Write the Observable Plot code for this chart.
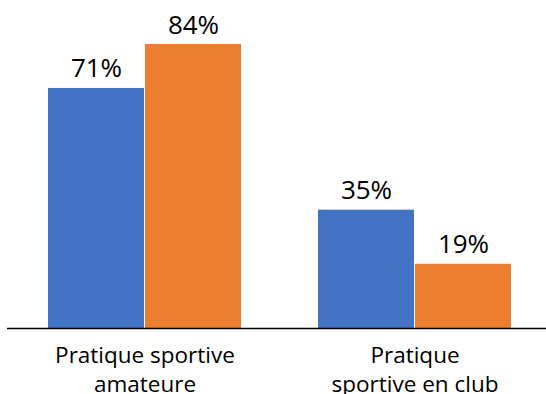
<!DOCTYPE html>
<html>
<head>
<meta charset="utf-8">
<script src="https://cdn.jsdelivr.net/npm/d3@7"></script>
<script src="https://cdn.jsdelivr.net/npm/@observablehq/plot@0.6"></script>
<style>
  html, body { margin: 0; padding: 0; background: #fff; }
  #chart svg { display: block; }
</style>
</head>
<body>
<div id="chart"></div>
<script>
const categories = ["Pratique sportive amateure", "Pratique sportive en club"];
const tickLabels = ["Pratique sportive\namateure", "Pratique\nsportive en club"];
const series = ["A", "B"];
const valuesA = [71, 35];
const valuesB = [84, 19];
const colors = ["#4472C4", "#ED7D31"];

const data = [];
categories.forEach((c, i) => {
  data.push({category: c, series: series[0], value: valuesA[i]});
  data.push({category: c, series: series[1], value: valuesB[i]});
});
const dataA = data.filter(d => d.series === series[0]);
const dataB = data.filter(d => d.series === series[1]);

const font = "'Open Sans', Lato, sans-serif";
const half = 97;

const chart = Plot.plot({
  width: 546,
  height: 394,
  marginTop: 44,
  marginBottom: 66,
  marginLeft: 7,
  marginRight: 0,
  style: {fontFamily: font, color: "#000", background: "#fff"},
  x: {domain: categories, paddingInner: 0.284, paddingOuter: 0.1365, align: 0.54, label: null},
  y: {domain: [0, 84], axis: null},
  color: {domain: series, range: colors},
  marks: [
    Plot.barY(dataA, {x: "category", y: "value", fill: "series", insetRight: half}),
    Plot.barY(dataB, {x: "category", y: "value", fill: "series", insetLeft: half}),
    Plot.text(dataA, {x: "category", y: "value", text: d => d.value + "%", dx: -half / 2, dy: -11, lineAnchor: "bottom", fontSize: 26, fill: "#000"}),
    Plot.text(dataB, {x: "category", y: "value", text: d => d.value + "%", dx: half / 2, dy: -11, lineAnchor: "bottom", fontSize: 26, fill: "#000"}),
    Plot.ruleY([0], {stroke: "#000", strokeWidth: 1.5}),
    Plot.axisX({tickSize: 0, tickPadding: 14, fontSize: 22.5, lineHeight: 1.28, tickFormat: (d) => tickLabels[categories.indexOf(d)], label: null})
  ]
});
document.getElementById("chart").appendChild(chart);
</script>
</body>
</html>
